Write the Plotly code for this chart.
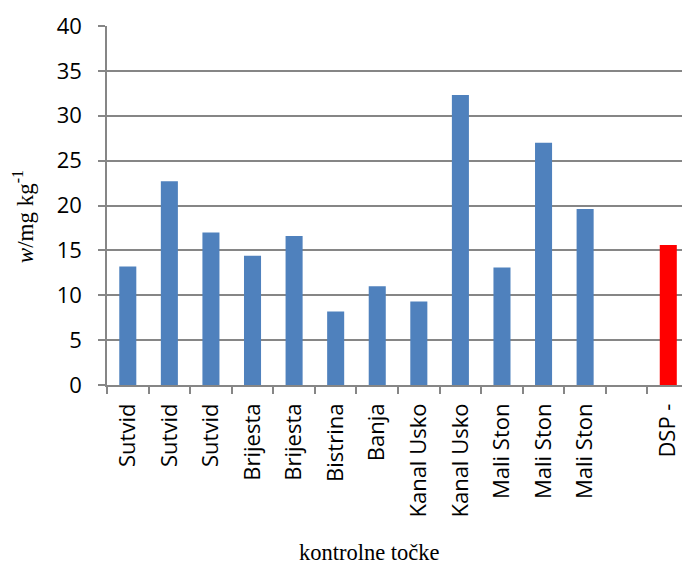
import plotly.graph_objects as go

locations = ["Sutvid", "Sutvid", "Sutvid", "Brijesta", "Brijesta", "Bistrina", "Banja",
             "Kanal Usko", "Kanal Usko", "Mali Ston", "Mali Ston", "Mali Ston", "", "DSP -"]
values = [13.2, 22.7, 17.0, 14.4, 16.6, 8.2, 11.0, 9.3, 32.3, 13.1, 27.0, 19.6, None, 15.6]
bar_colors = ["#4F81BD"] * 12 + ["#4F81BD", "#FF0000"]
y_ticks = [0, 5, 10, 15, 20, 25, 30, 35, 40]

positions = list(range(len(locations)))

fig = go.Figure()
fig.add_trace(go.Bar(
    x=positions, y=values, marker=dict(color=bar_colors, line=dict(width=0)),
    width=0.41, showlegend=False, hoverinfo="skip",
))

axis_color = "#868686"
fig.update_layout(
    width=682, height=566,
    margin=dict(l=107, r=0, t=26, b=181),
    paper_bgcolor="white", plot_bgcolor="white",
    font=dict(family="Open Sans", size=22, color="black"),
    xaxis=dict(
        range=[-0.5, 13.33], tickmode="array", tickvals=positions, ticktext=locations,
        tickangle=-90, ticks="", showline=True, linecolor=axis_color, linewidth=1.5,
        showgrid=False, zeroline=False, ticklabelstandoff=8, automargin=False,
        tickfont=dict(family="Open Sans", size=22),
        minor=dict(tickmode="array", tickvals=[p - 0.5 for p in positions],
                   ticks="outside", ticklen=7, tickcolor=axis_color, tickwidth=1.5,
                   showgrid=False),
    ),
    yaxis=dict(
        range=[0, 40], tickmode="array", tickvals=y_ticks,
        ticks="outside", ticklen=7, tickcolor=axis_color, tickwidth=1.5,
        showline=True, linecolor=axis_color, linewidth=1.5, automargin=False,
        showgrid=True, gridcolor=axis_color, gridwidth=1.5, zeroline=False,
        ticklabelstandoff=12, tickfont=dict(family="Open Sans", size=22),
    ),
    annotations=[
        dict(text="<i>w</i>/mg kg<sup>-1</sup>", xref="paper", yref="paper",
             x=-0.144, y=0.468, xanchor="center", yanchor="middle", textangle=-90,
             showarrow=False, font=dict(family="Liberation Serif", size=23, color="black")),
        dict(text="kontrolne točke", xref="paper", yref="paper",
             x=0.457, y=-0.466, xanchor="center", yanchor="middle",
             showarrow=False, font=dict(family="Liberation Serif", size=22.5, color="black")),
    ],
)

fig.write_html("out.html", config={"displayModeBar": False},
               post_script="document.body.style.margin='0px';")
